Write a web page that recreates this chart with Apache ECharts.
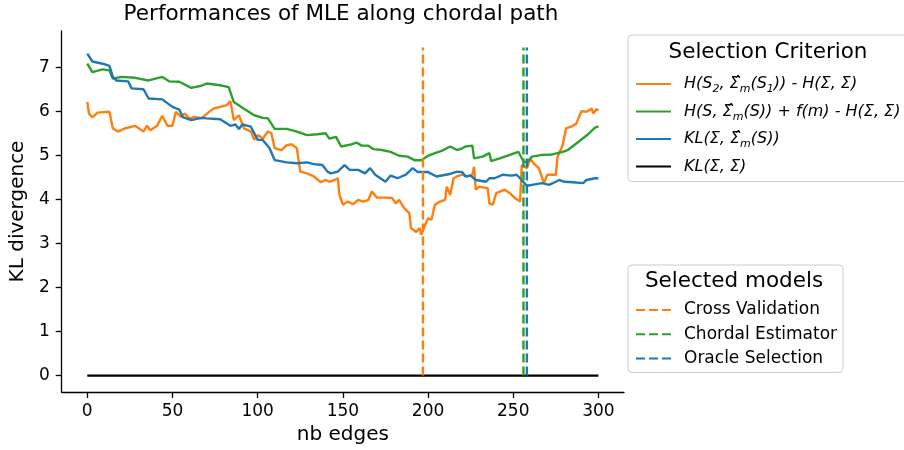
<!DOCTYPE html>
<html>
<head>
<meta charset="utf-8">
<script src="https://cdn.jsdelivr.net/npm/echarts@6/dist/echarts.min.js"></script>
<style>html,body{margin:0;padding:0;background:#fff}#c{width:904px;height:450px}</style>
</head>
<body>
<div id="c"></div>
<script>
// ---- data ----
const xTicks = [0, 50, 100, 150, 200, 250, 300];
const yTicks = [0, 1, 2, 3, 4, 5, 6, 7];

// H(S2, Sigma_m(S1)) - H(Sigma, Sigma)   (orange)
const crossVal = [[0,6.21],[1,5.95],[3,5.86],[6,5.97],[13,5.99],[15,5.61],[18,5.54],[22,5.61],[28,5.67],[33,5.54],[35,5.67],[37,5.57],[41,5.67],[44,5.90],[47,5.67],[50,5.67],[52,5.99],[55,5.87],[57,5.95],[60,5.84],[63,5.87],[67,5.84],[71,5.97],[74,6.06],[78,6.10],[82,6.14],[84,6.23],[86,5.80],[89,5.91],[92,5.61],[96,5.54],[98,5.35],[100,5.46],[103,5.38],[106,5.54],[108,5.50],[110,5.16],[114,5.12],[117,5.23],[120,5.25],[123,5.16],[125,4.63],[129,4.59],[133,4.52],[137,4.39],[140,4.44],[142,4.40],[145,4.44],[147,4.48],[148,4.10],[150,3.88],[153,3.95],[156,3.89],[159,3.99],[162,3.95],[165,3.99],[167,4.18],[170,4.04],[175,4.04],[179,4.03],[181,3.91],[183,3.99],[186,3.80],[189,3.69],[190,3.35],[193,3.26],[195,3.35],[196,3.20],[198,3.39],[200,3.57],[202,3.54],[204,3.88],[207,3.95],[210,3.99],[211,4.29],[213,4.10],[215,4.48],[217,4.52],[220,4.56],[223,4.52],[226,4.56],[227,4.74],[228,4.22],[230,4.29],[235,4.25],[236,3.91],[238,3.88],[240,4.14],[245,4.22],[248,4.14],[251,4.03],[254,3.95],[255,4.78],[258,4.71],[260,4.92],[262,4.82],[265,4.71],[268,4.37],[270,4.56],[275,4.56],[276,4.97],[279,5.23],[281,5.61],[284,5.65],[287,5.72],[290,6.00],[293,5.99],[296,6.06],[297,5.95],[299,6.05],[300,6.02]];

// H(S, Sigma_m(S)) + f(m) - H(Sigma, Sigma)   (green)
const chordal = [[0,7.08],[3,6.89],[9,6.95],[13,6.93],[15,6.74],[20,6.78],[28,6.76],[36,6.70],[44,6.78],[48,6.68],[54,6.67],[61,6.53],[67,6.58],[70,6.63],[78,6.59],[83,6.55],[86,6.21],[92,6.06],[98,5.91],[103,5.85],[106,5.84],[110,5.60],[117,5.60],[123,5.54],[129,5.46],[135,5.48],[140,5.50],[142,5.38],[146,5.42],[149,5.20],[155,5.25],[158,5.29],[161,5.22],[165,5.22],[168,5.14],[173,5.12],[178,5.08],[183,4.99],[188,4.97],[192,4.89],[196,4.89],[200,4.99],[204,5.05],[208,5.10],[213,5.20],[217,5.12],[220,5.16],[222,5.20],[226,5.22],[227,4.93],[232,4.97],[236,5.05],[237,4.87],[242,4.93],[248,5.01],[253,5.08],[256,4.86],[258,4.84],[261,4.97],[267,5.01],[273,5.02],[279,5.08],[282,5.12],[287,5.27],[293,5.45],[298,5.63],[300,5.66]];

// KL(Sigma, Sigma_m(S))   (blue)
const oracle = [[0,7.31],[3,7.13],[9,7.08],[13,7.03],[15,6.78],[17,6.70],[24,6.68],[26,6.52],[33,6.50],[36,6.29],[44,6.27],[50,6.10],[54,6.04],[56,5.87],[61,5.80],[67,5.85],[70,5.84],[78,5.82],[84,5.67],[87,5.70],[89,5.60],[91,5.70],[96,5.65],[100,5.35],[103,5.35],[107,5.16],[110,4.89],[117,4.84],[123,4.82],[129,4.84],[133,4.80],[138,4.78],[141,4.63],[143,4.59],[147,4.63],[151,4.78],[154,4.67],[159,4.67],[163,4.59],[166,4.71],[169,4.56],[175,4.40],[178,4.54],[182,4.48],[187,4.56],[191,4.71],[194,4.62],[200,4.62],[205,4.52],[212,4.57],[217,4.63],[220,4.62],[222,4.52],[225,4.54],[228,4.44],[234,4.40],[236,4.48],[239,4.48],[244,4.56],[249,4.54],[252,4.56],[254,4.48],[256,4.39],[258,4.31],[261,4.33],[267,4.37],[271,4.33],[275,4.40],[277,4.44],[280,4.40],[281,4.44],[285,4.39],[291,4.37],[293,4.44],[298,4.48],[300,4.48]];

// KL(Sigma, Sigma)   (black)
const reference = [[0,0],[300,0]];

// selected models (vertical dashed lines)
const selectedEdges = { cv: 197, ce: 256, os: 258 };
const vlineTop = 7.45;

// ---- chart ----
const FONT = 'DejaVu Sans';
const C = { orange: '#ff7f0e', green: '#2ca02c', blue: '#1f77b4', black: '#000000' };

const critLabels = {
  orange: 'H(S{s|2}, Σ\u0302{s|m}(S{s|1})) - H(Σ, Σ)',
  green: 'H(S, Σ\u0302{s|m}(S)) + f(m) - H(Σ, Σ)',
  blue: 'KL(Σ, Σ\u0302{s|m}(S))',
  black: 'KL(Σ, Σ)'
};
const selLabels = { cv: 'Cross Validation', ce: 'Chordal Estimator', os: 'Oracle Selection' };

function curve(name, data, color) {
  return { name, type: 'line', data, showSymbol: false, symbol: 'none', animation: false,
           lineStyle: { color, width: 2.4 }, itemStyle: { color }, z: 3 };
}
function vline(name, x, color) {
  return { name, type: 'line', data: [[x, 0], [x, vlineTop]], showSymbol: false, symbol: 'none', animation: false,
           lineStyle: { color, width: 2.4, type: [9, 4] }, itemStyle: { color }, z: 4 };
}

const chart = echarts.init(document.getElementById('c'), null, { renderer: 'canvas' });
chart.setOption({
  backgroundColor: '#ffffff',
  animation: false,
  textStyle: { fontFamily: FONT },
  grid: { left: 59, right: 280, top: 31, bottom: 55 },
  xAxis: {
    type: 'value', min: -15, max: 315,
    name: 'nb edges', nameLocation: 'middle', nameGap: 33,
    nameTextStyle: { fontFamily: FONT, fontSize: 20, color: '#000' },
    axisLine: { show: true, onZero: false, lineStyle: { color: '#000', width: 1.3 } },
    axisTick: { show: true, length: 6, lineStyle: { color: '#000', width: 1.3 }, customValues: xTicks },
    axisLabel: { fontFamily: FONT, fontSize: 17, color: '#000', margin: 11, customValues: xTicks },
    splitLine: { show: false }
  },
  yAxis: {
    type: 'value', min: -0.3725, max: 7.8225,
    name: 'KL divergence', nameLocation: 'middle', nameGap: 27, nameRotate: 90,
    nameTextStyle: { fontFamily: FONT, fontSize: 20, color: '#000' },
    axisLine: { show: true, onZero: false, lineStyle: { color: '#000', width: 1.3 } },
    axisTick: { show: true, length: 6, lineStyle: { color: '#000', width: 1.3 }, customValues: yTicks },
    axisLabel: { fontFamily: FONT, fontSize: 17, color: '#000', margin: 12, customValues: yTicks },
    splitLine: { show: false }
  },
  legend: [
    {
      orient: 'vertical', left: 628, top: 35,
      data: ['orange', 'green', 'blue', 'black'],
      formatter: n => critLabels[n],
      itemWidth: 35, itemHeight: 14, itemGap: 5.5,
      padding: [38, 20, 4, 7],
      itemStyle: { opacity: 0 },
      backgroundColor: '#ffffff', borderColor: '#cccccc', borderWidth: 1, borderRadius: 4,
      textStyle: { fontFamily: FONT, fontSize: 16, fontStyle: 'italic', color: '#000', lineHeight: 22,
                   padding: [0, 0, 0, 8],
                   rich: { s: { fontFamily: FONT, fontSize: 11, fontStyle: 'italic', color: '#000', verticalAlign: 'bottom', lineHeight: 22 } } },
      selectedMode: false
    },
    {
      orient: 'vertical', left: 628, top: 265,
      data: ['cv', 'ce', 'os'],
      formatter: n => selLabels[n],
      itemWidth: 35, itemHeight: 14, itemGap: 6.2,
      padding: [36, 6, 5, 7],
      itemStyle: { opacity: 0 },
      backgroundColor: '#ffffff', borderColor: '#cccccc', borderWidth: 1, borderRadius: 4,
      textStyle: { fontFamily: FONT, fontSize: 17, color: '#000', lineHeight: 18, padding: [0, 0, 0, 8] },
      selectedMode: false
    }
  ],
  graphic: [
    { type: 'text', x: 341, y: 14, style: { text: 'Performances of MLE along chordal path', font: '21.5px "DejaVu Sans"', fill: '#000', textAlign: 'center', textVerticalAlign: 'middle' }, z: 10 },
    { type: 'text', x: 768, y: 52, style: { text: 'Selection Criterion', font: '21.5px "DejaVu Sans"', fill: '#000', textAlign: 'center', textVerticalAlign: 'middle' }, z: 10 },
    { type: 'text', x: 734, y: 281, style: { text: 'Selected models', font: '21.5px "DejaVu Sans"', fill: '#000', textAlign: 'center', textVerticalAlign: 'middle' }, z: 10 }
  ],
  series: [
    curve('orange', crossVal, C.orange),
    curve('green', chordal, C.green),
    curve('blue', oracle, C.blue),
    curve('black', reference, C.black),
    vline('cv', selectedEdges.cv, C.orange),
    vline('ce', selectedEdges.ce, C.green),
    vline('os', selectedEdges.os, C.blue)
  ]
});
</script>
</body>
</html>
